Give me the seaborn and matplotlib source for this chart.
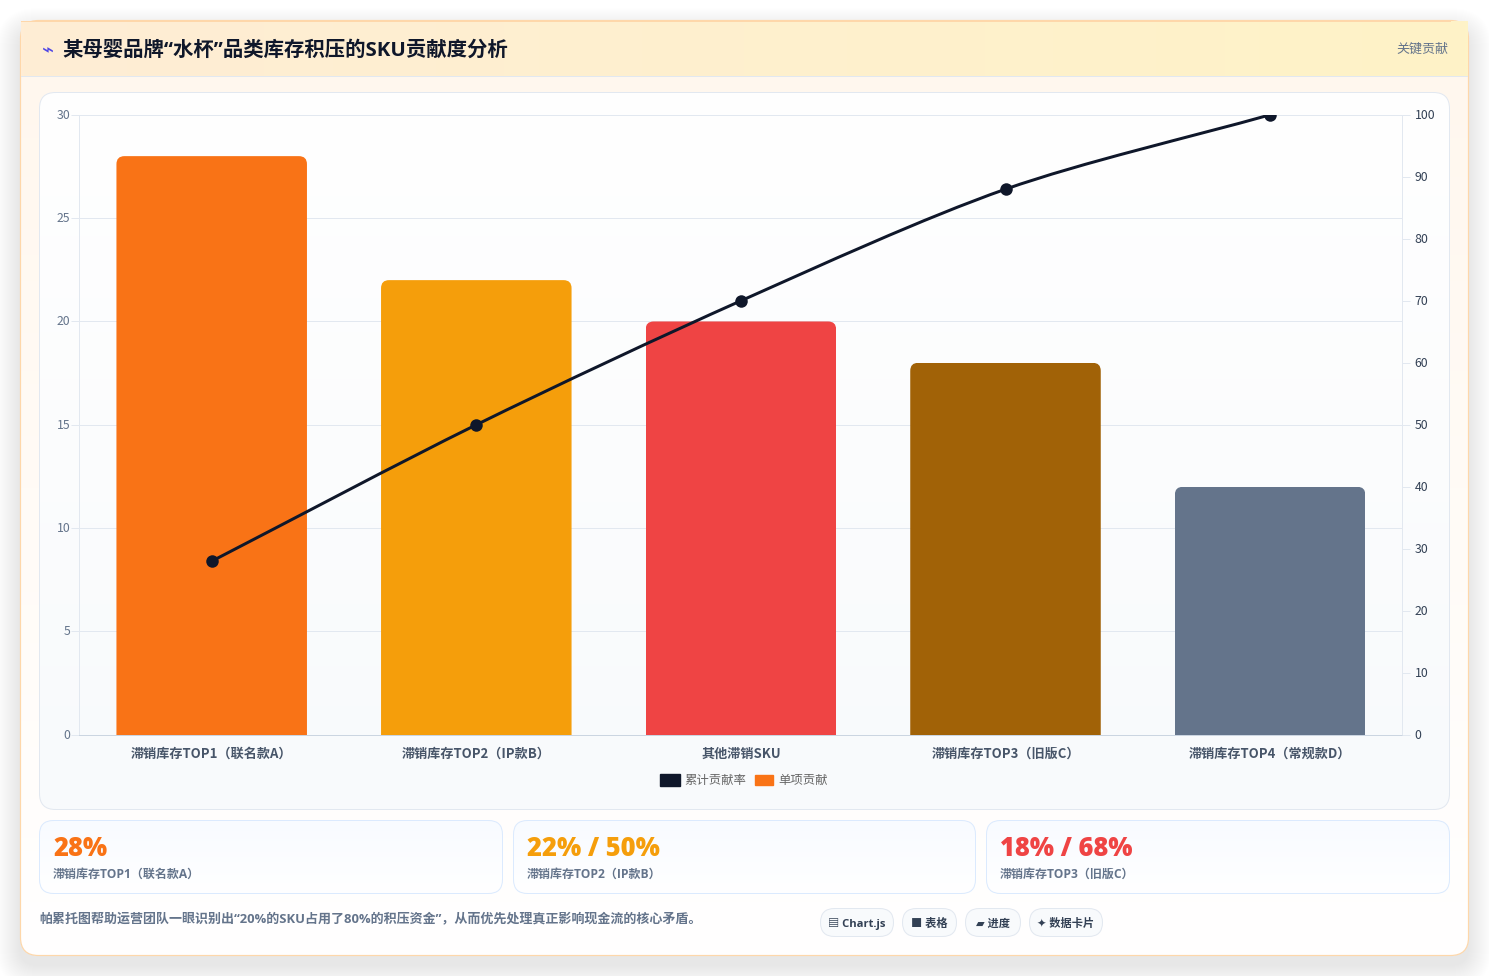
import numpy as np
import pandas as pd
import matplotlib
matplotlib.use("Agg")
import matplotlib.pyplot as plt
from matplotlib.patches import FancyBboxPatch, Rectangle, Patch, PathPatch
from matplotlib.path import Path
from matplotlib.transforms import IdentityTransform, ScaledTranslation
from matplotlib.colors import to_rgb
import seaborn as sns

# ---------- data ----------
categories = ["滞销库存TOP1（联名款A）", "滞销库存TOP2（IP款B）", "其他滞销SKU", "滞销库存TOP3（旧版C）", "滞销库存TOP4（常规款D）"]
single_share = [28, 22, 20, 18, 12]
cumulative_share = [28, 50, 70, 88, 100]
bar_colors = ["#f97316", "#f59e0b", "#ef4444", "#a16207", "#64748b"]
left_ticks = [0, 5, 10, 15, 20, 25, 30]
right_ticks = [0, 10, 20, 30, 40, 50, 60, 70, 80, 90, 100]
legend_labels = ["累计贡献率", "单项贡献"]
title_text = "某母婴品牌“水杯”品类库存积压的SKU贡献度分析"
badge_text = "关键贡献"
stat_values = ["28%", "22% / 50%", "18% / 68%"]
stat_labels = ["滞销库存TOP1（联名款A）", "滞销库存TOP2（IP款B）", "滞销库存TOP3（旧版C）"]
stat_colors = ["#f97316", "#f59e0b", "#ef4444"]
footnote = "帕累托图帮助运营团队一眼识别出“20%的SKU占用了80%的积压资金”，从而优先处理真正影响现金流的核心矛盾。"
pill_texts = ["▤ Chart.js", "■ 表格", "▰ 进度", "✦ 数据卡片"]

sns.set_theme(style="white")
CJK = ["Noto Sans CJK SC", "DejaVu Sans"]
LAT = ["Open Sans", "Noto Sans CJK SC", "DejaVu Sans"]
plt.rcParams["font.family"] = CJK
plt.rcParams["axes.unicode_minus"] = False

W, H = 1489, 976
px = 0.72  # 1 css px in points at dpi 100
fig = plt.figure(figsize=(W / 100, H / 100), dpi=100, facecolor="white")

# ---------- page layer, pixel coordinates ----------
bg = fig.add_axes([0, 0, 1, 1], zorder=0)
bg.axis("off")


def rbox(x0, y0, x1, y1, r, **kw):
    p = FancyBboxPatch((x0 + r, y0 + r), x1 - x0 - 2 * r, y1 - y0 - 2 * r,
                       boxstyle=f"round,pad={r},rounding_size={r}",
                       transform=bg.transData, **kw)
    bg.add_patch(p)
    return p


def gradient(clip, x0, y0, x1, y1, c0, c1, horizontal=False, z=2):
    t = np.linspace(0, 1, 256)
    a, b = np.array(to_rgb(c0)), np.array(to_rgb(c1))
    arr = a[None, :] * (1 - t[:, None]) + b[None, :] * t[:, None]
    arr = arr[None, :, :] if horizontal else arr[:, None, :]
    im = bg.imshow(arr, extent=(x0, x1, y1, y0), aspect="auto", zorder=z, interpolation="bilinear")
    if clip is not None:
        im.set_clip_path(clip)
    return im


# soft card shadow
for i in range(24):
    e = 24 - i
    rbox(20 - e, 20 - e + 12, 1468 + e, 955 + e + 10, 18 + e, fc="black", ec="none", alpha=0.0045, zorder=1)

card = rbox(20.5, 20.5, 1468.5, 955.5, 18, fc="white", ec="none", zorder=1.5)
gradient(card, 20, 20, 1469, 956, "#fff7ed", "#ffffff", z=2)
rbox(20.5, 20.5, 1468.5, 955.5, 18, fc="none", ec="#fed7aa", lw=1 * px * 1.2, zorder=2.1)

gradient(None, 21, 21, 1468, 76, "#ffedd5", "#fef3c7", horizontal=True, z=2.2)
bg.add_patch(Rectangle((21, 75.5), 1447, 1, fc="#e2e8f0", ec="none", zorder=2.3))
bg.add_patch(Rectangle((21, 20.5), 1430, 1, fc="#fed7aa", ec="none", zorder=2.3))

bg.text(47.5, 50.5, "⌁", color="#4f46e5", fontsize=20 * px, ha="center", va="center", zorder=3, family=["DejaVu Sans"])
bg.text(62, 50.5, title_text, color="#0f172a", fontsize=20.4 * px, fontweight="bold", ha="left", va="center",
        family=LAT, zorder=3)
bg.text(1448, 49, badge_text, color="#64748b", fontsize=13 * px, ha="right", va="center", zorder=3)

panel = rbox(39.5, 92.5, 1449.5, 809.5, 16, fc="white", ec="none", zorder=2.4)
gradient(panel, 39, 92, 1450, 810, "#ffffff", "#f8fafc", z=2.5)
rbox(39.5, 92.5, 1449.5, 809.5, 16, fc="none", ec="#e2e8f0", lw=1 * px, zorder=2.6)

stat_x = [(39.5, 502.5), (513.5, 975.5), (986.5, 1449.5)]
for (x0, x1), val, lab, col in zip(stat_x, stat_values, stat_labels, stat_colors):
    c = rbox(x0, 820.5, x1, 893.5, 14, fc="white", ec="none", zorder=2.4)
    gradient(c, x0, 820, x1, 894, "#f8fbff", "#ffffff", z=2.5)
    rbox(x0, 820.5, x1, 893.5, 14, fc="none", ec="#dbeafe", lw=1 * px, zorder=2.6)
    bg.text(x0 + 13.5, 849.5, val, color=col, fontsize=25.5 * px, fontweight=800, ha="left", va="center",
            family=LAT, zorder=3)
    bg.text(x0 + 13.5, 874, lab, color="#64748b", fontsize=12 * px, fontweight="bold", ha="left", va="center",
            family=LAT, zorder=3)

bg.text(39, 918.5, footnote, color="#64748b", fontsize=13 * px, fontweight="bold", ha="left", va="center",
        family=LAT, zorder=3)

pill_x = [(820.5, 893.5), (902.5, 956.5), (965.5, 1020.5), (1029.5, 1102.5)]
for (x0, x1), t in zip(pill_x, pill_texts):
    rbox(x0, 908.5, x1, 936.5, 14, fc="#f8fafc", ec="#e2e8f0", lw=1 * px, zorder=2.6)
    bg.text((x0 + x1) / 2, 924, t, color="#334155", fontsize=11.2 * px, fontweight="bold", ha="center", va="center",
            family=LAT, zorder=3)

bg.set_xlim(0, W)
bg.set_ylim(H, 0)

# ---------- chart ----------
ax = fig.add_axes([79.4 / W, 1 - 734.8 / H, (1402.4 - 79.4) / W, (734.8 - 114.8) / H], zorder=2)
ax.patch.set_alpha(0)
df = pd.DataFrame({"category": categories, "single": single_share, "cum": cumulative_share})
sns.barplot(data=df, x="category", y="single", hue="category", palette=bar_colors, dodge=False,
            legend=False, width=0.72, saturation=1, ax=ax, order=categories, zorder=2, linewidth=0)
ax.set_xlim(-0.5, 4.5)
ax.set_ylim(0, 30)
ax.set_yticks(left_ticks)
ax.set_xlabel("")
ax.set_ylabel("")
ax.set_axisbelow(True)
ax.yaxis.grid(True, color="#e2e8f0", lw=1 * px)
ax.xaxis.grid(False)
ax.tick_params(axis="y", length=8 * px, width=1 * px, color="#e2e8f0", labelcolor="#64748b",
               labelsize=12.3 * px, pad=1.2 * px, left=True)
ax.tick_params(axis="x", length=0, labelcolor="#475569", labelsize=13.1 * px, pad=12 * px)
for lab in ax.get_xticklabels():
    lab.set_fontweight("bold")
for s, c in (("left", "#e2e8f0"), ("right", "#e2e8f0"), ("bottom", "#cbd5e1"), ("top", "#e2e8f0")):
    ax.spines[s].set_color(c)
    ax.spines[s].set_linewidth(1 * px)

fig.canvas.draw()
# rounded top corners: clip each bar with a rounded outline built from its own geometry
for bar in ax.patches:
    bb = bar.get_window_extent()
    r = 8
    clip = FancyBboxPatch((bb.x0 + r, bb.y0 - 30), bb.width - 2 * r, bb.height + 30 - r,
                          boxstyle=f"round,pad={r},rounding_size={r}", transform=IdentityTransform())
    bar.set_clip_path(clip)

ax2 = ax.twinx()
ax2.set_zorder(3)
ax2.patch.set_alpha(0)
ax2.set_ylim(0, 100)
ax2.set_yticks(right_ticks)
ax2.grid(False)
ax2.tick_params(axis="y", length=8 * px, width=1 * px, color="#e2e8f0", labelcolor="#334155",
                labelsize=12.3 * px, pad=4 * px, right=True)
for s in ax2.spines.values():
    s.set_visible(False)
xs = np.arange(len(categories))
sns.lineplot(x=xs, y=cumulative_share, ax=ax2, color="#0f172a", marker="o", markersize=12.5 * px,
             markeredgewidth=0, linestyle="none", legend=False, errorbar=None)
ax2.set_xlim(-0.5, 4.5)
ax2.set_ylim(0, 100)
ax2.set_ylabel("")

# nudge the numeric tick labels up one pixel
shift = ScaledTranslation(0, 1 / 100, fig.dpi_scale_trans)
for a in (ax, ax2):
    for lab in a.get_yticklabels():
        lab.set_transform(lab.get_transform() + shift)

# smooth line: Chart.js style spline through the values
fig.canvas.draw()
P = ax2.transData.transform(np.column_stack([xs, cumulative_share]))
tension = 0.3
verts, codes = [P[0]], [Path.MOVETO]
n = len(P)
ctrl_after, ctrl_before = [None] * n, [None] * n
for i in range(n):
    prev = P[max(i - 1, 0)]
    nxt = P[min(i + 1, n - 1)]
    d1 = np.hypot(*(P[i] - prev))
    d2 = np.hypot(*(nxt - P[i]))
    fa = tension * d1 / (d1 + d2)
    fb = tension * d2 / (d1 + d2)
    ctrl_before[i] = P[i] - fa * (nxt - prev)
    ctrl_after[i] = P[i] + fb * (nxt - prev)
for i in range(n - 1):
    verts += [ctrl_after[i], ctrl_before[i + 1], P[i + 1]]
    codes += [Path.CURVE4] * 3
curve = PathPatch(Path(verts, codes), fc="none", ec="#0f172a", lw=3 * px, transform=IdentityTransform(), zorder=2)
curve.set_clip_box(ax2.bbox)
ax2.add_patch(curve)

# legend
handles = [Patch(fc="#0f172a", ec="#0f172a"), Patch(fc=bar_colors[0], ec=bar_colors[0])]
leg = ax2.legend(handles, legend_labels, loc="center", bbox_to_anchor=(744 / W, 1 - 780.5 / H),
                 bbox_transform=fig.transFigure, ncols=2, frameon=False, fontsize=12.4 * px, labelcolor="#666666",
                 handlelength=1.62, handleheight=1.15, handletextpad=0.32, columnspacing=0.7, borderpad=0)
h = leg.legend_handles[1]
h.set_width(h.get_width() * 0.9)
h.set_y(h.get_y() + 1)
h.set_height(h.get_height() * 0.8)

fig.savefig("out.png", dpi=100, facecolor="white")
